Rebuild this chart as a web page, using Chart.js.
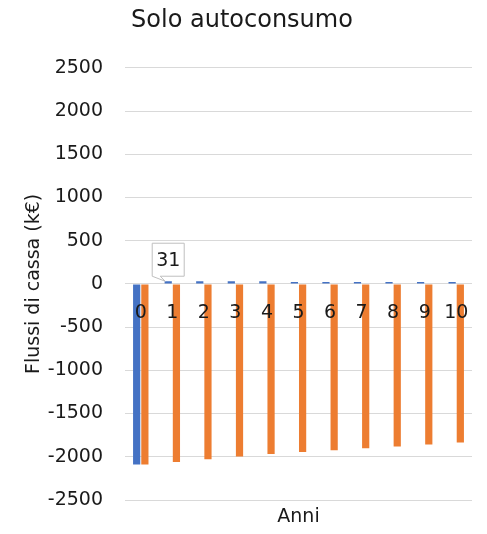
<!DOCTYPE html>
<html>
<head>
<meta charset="utf-8">
<script src="https://cdn.jsdelivr.net/npm/chart.js@4.4.1/dist/chart.umd.min.js"></script>
<style>
  html, body { margin: 0; padding: 0; background: #fff; }
  #wrap { width: 487px; height: 534px; }
</style>
</head>
<body>
<div id="wrap"><canvas id="grafico"></canvas></div>
<script>
// Anni di esercizio (asse delle categorie)
const anni = ['0', '1', '2', '3', '4', '5', '6', '7', '8', '9', '10'];
// Flusso di cassa del singolo anno (k€)
const flussiAnnui = [-2090, 31, 31, 30, 30, 22, 22, 22, 22, 22, 22];
// Flusso di cassa cumulato (k€)
const flussiCumulati = [-2090, -2059, -2028, -1998, -1968, -1946, -1924, -1902, -1880, -1858, -1836];
// Scala dell'asse verticale
const yMin = -2500;
const yMax = 2500;
const yPasso = 500;
// Barra con etichetta del valore: [serie, anno]
const barraEtichettata = [0, 1];

const FONT = "'DejaVu Sans', sans-serif";
const TESTO = '#1a1a1a';

// Riquadro con freccia che riporta il valore della barra indicata
const etichettaValore = {
  id: 'etichettaValore',
  afterDatasetsDraw(chart) {
    const [ds, idx] = barraEtichettata;
    const bar = chart.getDatasetMeta(ds).data[idx];
    if (!bar) return;
    const ctx = chart.ctx;
    const w = 32, h = 33;
    const bottom = bar.y - 5;
    const top = bottom - h;
    const left = bar.x - w / 2;
    const right = left + w;
    ctx.save();
    ctx.beginPath();
    ctx.moveTo(left, top);
    ctx.lineTo(right, top);
    ctx.lineTo(right, bottom);
    ctx.lineTo(left + 8, bottom);
    ctx.lineTo(bar.x - 3, bar.y);
    ctx.lineTo(left, bottom);
    ctx.closePath();
    ctx.fillStyle = '#ffffff';
    ctx.fill();
    ctx.strokeStyle = '#bfbfbf';
    ctx.lineWidth = 1;
    ctx.stroke();
    ctx.fillStyle = TESTO;
    ctx.font = '19px ' + FONT;
    ctx.textAlign = 'center';
    ctx.textBaseline = 'middle';
    ctx.fillText(String(chart.data.datasets[ds].data[idx]), bar.x, top + h / 2 + 1);
    ctx.restore();
  }
};

new Chart(document.getElementById('grafico'), {
  type: 'bar',
  data: {
    labels: anni,
    datasets: [
      {
        label: 'Flusso annuo',
        data: flussiAnnui,
        backgroundColor: '#4472C4',
        categoryPercentage: 0.52,
        barPercentage: 0.88
      },
      {
        label: 'Flusso cumulato',
        data: flussiCumulati,
        backgroundColor: '#ED7D31',
        categoryPercentage: 0.52,
        barPercentage: 0.88
      }
    ]
  },
  options: {
    responsive: true,
    maintainAspectRatio: false,
    animation: false,
    layout: { padding: { left: 0, right: 3, top: 0, bottom: 0 } },
    plugins: {
      legend: { display: false },
      tooltip: { enabled: false },
      title: {
        display: true,
        text: 'Solo autoconsumo',
        color: TESTO,
        font: { family: FONT, size: 24, weight: 'normal' },
        padding: { top: 6, bottom: 33 }
      }
    },
    scales: {
      x: {
        type: 'category',
        position: { y: 0 },
        grid: { display: false, drawTicks: false },
        border: { display: false },
        ticks: {
          z: 1,
          color: TESTO,
          font: { family: FONT, size: 19 },
          padding: 18,
          maxRotation: 0,
          autoSkip: false
        }
      },
      xt: {
        type: 'category',
        position: 'bottom',
        grid: { display: false, drawTicks: false },
        border: { display: false },
        ticks: { display: false },
        title: {
          display: true,
          text: 'Anni',
          color: TESTO,
          font: { family: FONT, size: 19 },
          padding: { top: 3, bottom: 6 }
        },
        afterFit(scale) { scale.height = 34; }
      },
      y: {
        min: yMin,
        max: yMax,
        grid: { color: '#d9d9d9', lineWidth: 1, drawTicks: false },
        border: { display: false },
        ticks: {
          stepSize: yPasso,
          color: TESTO,
          font: { family: FONT, size: 19 },
          padding: 22,
          callback: (v) => String(v)
        },
        title: {
          display: true,
          text: 'Flussi di cassa (k€)',
          color: TESTO,
          font: { family: FONT, size: 19 },
          padding: { top: 23, bottom: 4 }
        },
        afterFit(scale) { scale.width = 125; }
      }
    }
  },
  plugins: [etichettaValore]
});
</script>
</body>
</html>
